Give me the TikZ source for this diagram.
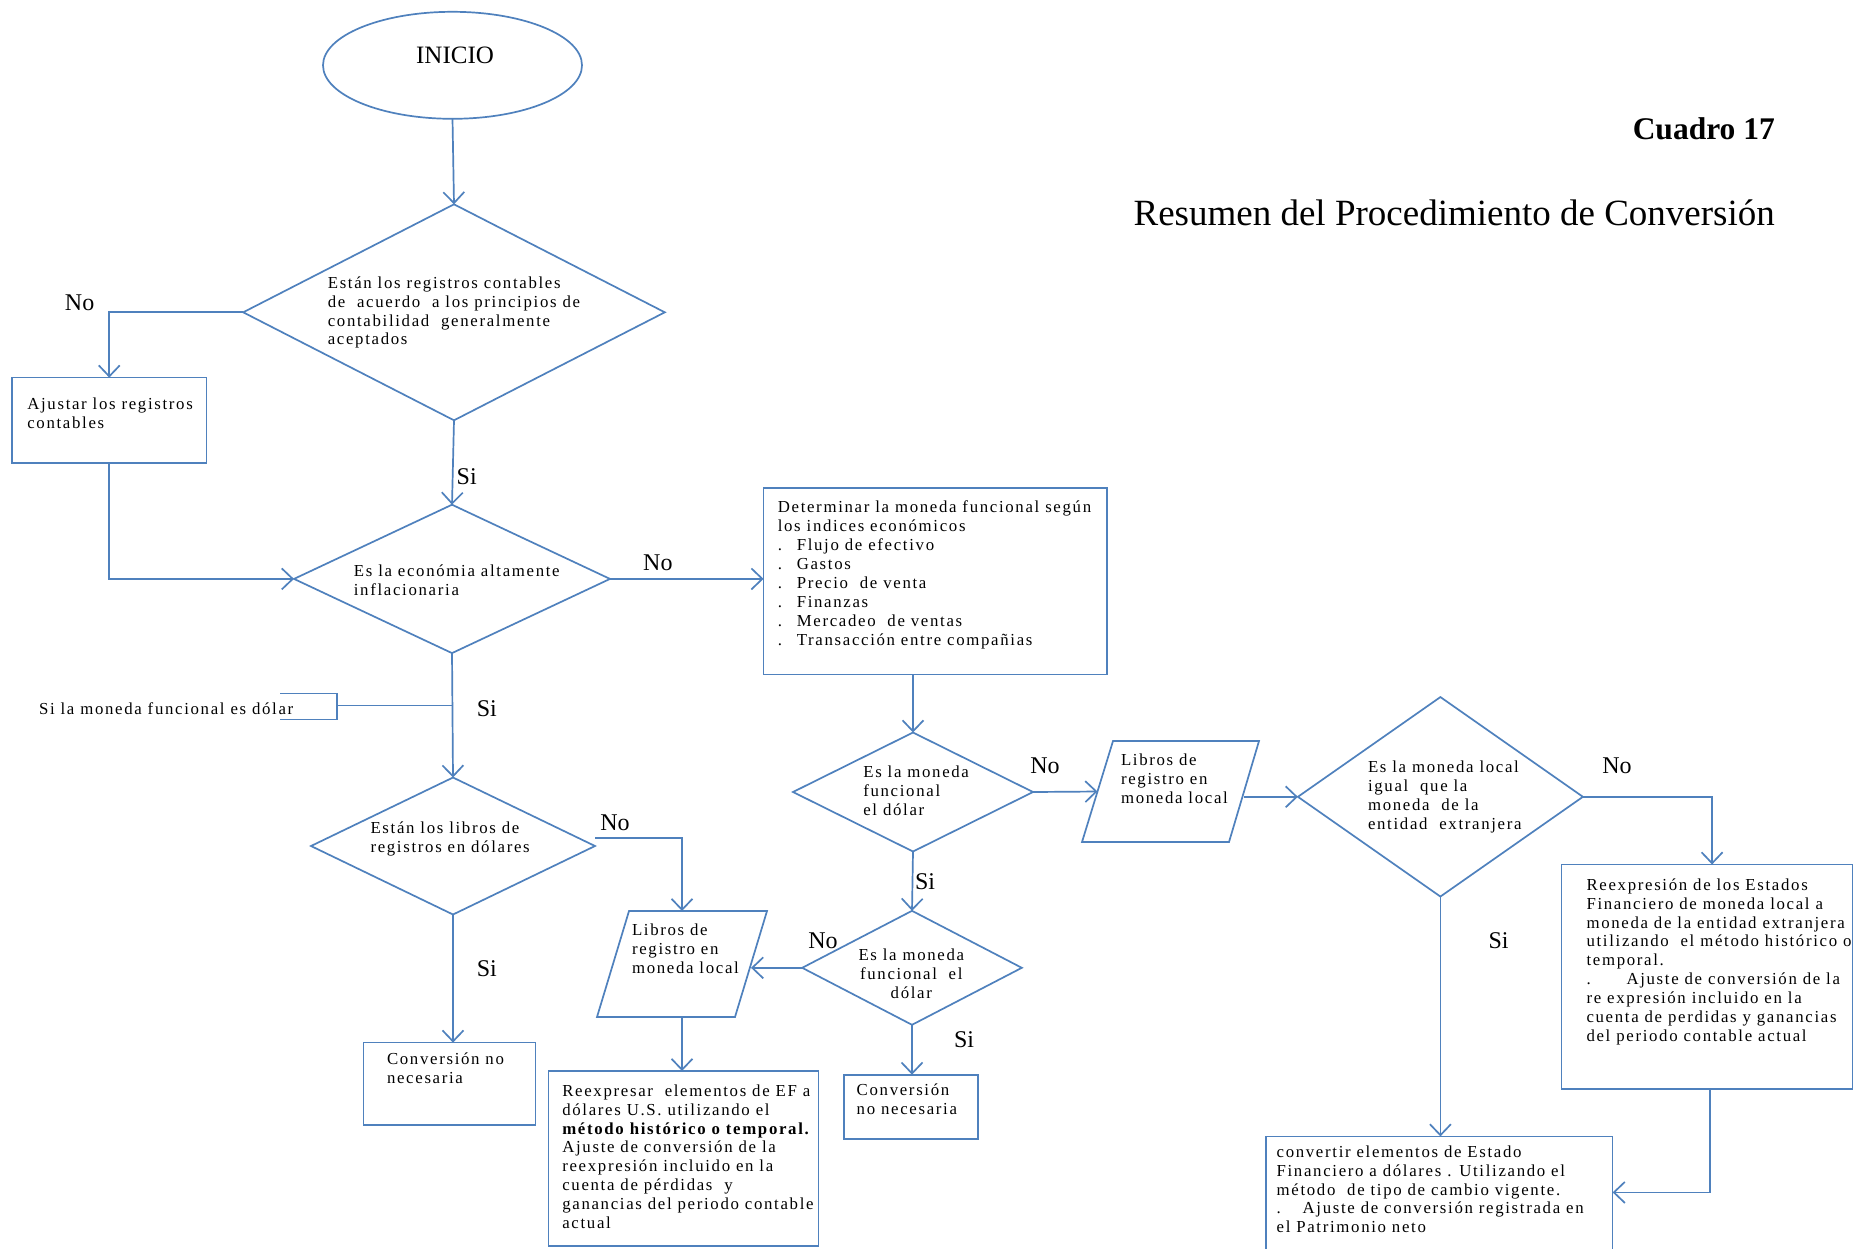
\documentclass[tikz,border=0pt]{standalone}
\usepackage{fontspec}
\setmainfont{Liberation Serif}
\newfontfamily\boxfont{Liberation Serif}[LetterSpace=10]
\usetikzlibrary{shapes.geometric,arrows.meta,calc}
\definecolor{flowblue}{RGB}{79,129,189}
\newcommand\itemdot[1]{\makebox[#1][l]{.}}
\tikzset{
  shp/.style={draw=flowblue, line width=1.7pt, inner sep=0pt, outer sep=0pt},
  boxn/.style={shp, rectangle, anchor=north west},
  dia/.style={shp, diamond},
  frame/.style={inner sep=0pt, outer sep=0pt},
  txt/.style={inner sep=0pt, outer sep=0pt, anchor=north west, align=left,
              font=\boxfont\fontsize{16.8}{18.9}\selectfont},
  lbl/.style={inner sep=0pt, font=\fontsize{24}{26}\selectfont},
  link/.style={draw=flowblue, line width=1.7pt},
  arr/.style={link, -{Straight Barb[length=11pt,width=21pt]}},
}
\begin{document}
\begin{tikzpicture}[x=1pt,y=-1pt]
\fill[white] (0,0) rectangle (1862,1248);
\useasboundingbox (0,0) rectangle (1862,1248);

% ---------- title ----------
\node[inner sep=0pt, anchor=base east, font=\bfseries\fontsize{31.5}{36}\selectfont] (cuadro) at (1775,139) {Cuadro 17};
\node[inner sep=0pt, anchor=base east, font=\fontsize{37}{42}\selectfont] (titulo) at (1775,225) {Resumen del Procedimiento de Conversión};

% ---------- start ----------
\node[shp, ellipse, minimum width=259pt, minimum height=107pt] (inicio) at (452.5,65.3) {};
\node[inner sep=0pt, font=\fontsize{25}{27}\selectfont] (inicio-t) at (455,55) {INICIO};

% ---------- decisions ----------
\node[dia, minimum width=421.6pt, minimum height=216pt] (d1) at (454,312.3) {};
\node[dia, minimum width=316pt, minimum height=148.4pt] (d2) at (452,578.9) {};
\node[dia, minimum width=284pt, minimum height=137pt] (d5) at (453,846) {};
\node[dia, minimum width=240pt, minimum height=119pt] (d3) at (913,792) {};
\node[dia, minimum width=219.6pt, minimum height=114pt] (d6) at (912,967.8) {};
\node[dia, minimum width=285pt, minimum height=199.5pt] (d4) at (1440.4,796.8) {};

% ---------- process boxes ----------
\node[boxn, minimum width=194.7pt, minimum height=85.5pt] (ajustar) at (11.9,377.6) {};
\node[boxn, minimum width=343.2pt, minimum height=186.5pt] (det) at (763.6,488) {};
\node[boxn, minimum width=290.9pt, minimum height=224.5pt] (reexp) at (1561.6,864.5) {};
\node[boxn, minimum width=346.7pt, minimum height=120pt] (conv2) at (1265.9,1136.4) {};
\node[boxn, minimum width=172.2pt, minimum height=82.6pt] (conv1) at (363.4,1042.6) {};
\node[boxn, minimum width=134pt, minimum height=64.5pt] (conv3) at (844.3,1074.7) {};
\node[boxn, minimum width=270pt, minimum height=174.7pt] (rexp2) at (548.6,1071) {};

% ---------- data (parallelogram) boxes ----------
\node[frame, minimum width=177pt, minimum height=101pt] (p1) at (1170.5,791.5) {};
\draw[link] ([xshift=31pt]p1.north west) -- (p1.north east)
  -- ([xshift=-30pt]p1.south east) -- (p1.south west) -- cycle;
\node[frame, minimum width=170pt, minimum height=106pt] (p2) at (682,964) {};
\draw[link] ([xshift=32pt]p2.north west) -- (p2.north east)
  -- ([xshift=-32pt]p2.south east) -- (p2.south west) -- cycle;
\coordinate (p1w) at ($(p1.west)+(15.5,0)$);
\coordinate (p1e) at ($(p1.east)+(-15,0)$);
\coordinate (p2e) at ($(p2.east)+(-16,0)$);

% ---------- texts ----------
\node[txt] (d1-t) at (327.8,275) {\strut Están los registros contables\\de\ \ acuerdo\ \ a los principios de\\contabilidad\ \ generalmente\\aceptados};
\node[txt] (ajustar-t) at (27.3,396) {\strut Ajustar los registros\\contables};
\node[txt] (d2-t) at (353.9,563.6) {\strut Es la económia altamente\\inflacionaria};
\node[txt] (det-t) at (777.8,499.5) {\strut Determinar la moneda funcional según\\los indices económicos\\
  \itemdot{19pt}Flujo de efectivo\\\itemdot{19pt}Gastos\\\itemdot{19pt}Precio\ \ de venta\\
  \itemdot{19pt}Finanzas\\\itemdot{19pt}Mercadeo\ \ de ventas\\\itemdot{19pt}Transacción entre compañias};
\node[txt] (d3-t) at (863.3,764) {\strut Es la moneda\\funcional\\el dólar};
\node[txt] (p1-t) at (1121,752.4) {\strut Libros de\\registro en\\moneda local};
\node[txt] (d4-t) at (1368,759.5) {\strut Es la moneda local\\igual\ \ que la\\moneda\ \ de la\\entidad\ \ extranjera};
\node[txt] (reexp-t) at (1586.5,877) {\strut Reexpresión de los Estados\\Financiero de moneda local a\\moneda de la entidad extranjera\\
  utilizando\ \ el método histórico o\\temporal.\\\itemdot{40pt}Ajuste de conversión de la\\
  re expresión incluido en la\\cuenta de perdidas y ganancias\\del periodo contable actual};
\node[txt] (conv2-t) at (1276.6,1144) {\strut convertir elementos de Estado\\Financiero a dólares . Utilizando el\\
  método\ \ de tipo de cambio vigente.\\\itemdot{26pt}Ajuste de conversión registrada en\\el Patrimonio neto};
\node[txt] (d5-t) at (370.5,820) {\strut Están los libros de\\registros en dólares};
\node[txt] (p2-t) at (632,922) {\strut Libros de\\registro en\\moneda local};
\node[txt, anchor=north, align=center] (d6-t) at (911.3,947) {\strut Es la moneda\\funcional\ \ el\\dólar};
\node[txt] (conv1-t) at (387,1051.6) {\strut Conversión no\\necesaria};
\node[txt] (conv3-t) at (856.7,1082) {\strut Conversión\\no necesaria};
\node[txt] (rexp2-t) at (562.3,1083) {\strut Reexpresar\ \ elementos de EF a\\dólares U.S. utilizando el\\
  {\bfseries método histórico o temporal.}\\Ajuste de conversión de la\\reexpresión incluido en la\\
  cuenta de pérdidas\ \ y\\ganancias del periodo contable\\actual};
\node[txt] (note-t) at (39,701) {\strut Si la moneda funcional es dólar};

% ---------- connectors ----------
\draw[arr] (inicio.south) -- (d1.north);
\draw[arr] (d1.west) -| (ajustar.north);
\draw[arr] (d1.south) -- (d2.north);
\draw[arr] (ajustar.south) |- (d2.west);
\draw[arr] (d2.east) -- (d2.east -| det.west);
\draw[arr] (d2.south) -- (d5.north);
\draw[arr] (d3.north |- det.south) -- (d3.north);
\draw[arr] (d3.east) -- (p1w);
\draw[arr] (p1e |- d4.west) -- (d4.west);
\draw[arr] (d4.east) -| ([xshift=5pt]reexp.north);
\draw[arr] (d4.south) -- (d4.south |- conv2.north);
\draw[arr] ([xshift=3pt]reexp.south) |- ([yshift=4pt]conv2.east);
\draw[arr] (d3.south) -- (d6.north);
\draw[arr] (d6.south) -- (d6.south |- conv3.north);
\draw[arr] (d6.west) -- (d6.west -| p2e);
\draw[arr] ([yshift=8pt]d5.east) -| (p2.north);
\draw[arr] (d5.south) -- (d5.south |- conv1.north);
\draw[arr] (p2.south) -- (p2.south |- rexp2.north);

% side note bracket on the "Si" branch
\coordinate (note) at (337,705.4);
\draw[link] (d2.south |- note) -- (note);
\draw[link] (280,693.5) -- (337,693.5) -- (337,719.6) -- (280,719.6);

% ---------- branch labels ----------
\node[lbl] (l-no1) at (79.6,302.8) {No};
\node[lbl] (l-si1) at (466.7,476.2) {Si};
\node[lbl] (l-no2) at (657.9,562.9) {No};
\node[lbl] (l-si2) at (486.9,709) {Si};
\node[lbl] (l-no3) at (615,823) {No};
\node[lbl] (l-si3) at (486.9,969) {Si};
\node[lbl] (l-no4) at (1045,766) {No};
\node[lbl] (l-si4) at (925,882) {Si};
\node[lbl] (l-no5) at (823,940.5) {No};
\node[lbl] (l-si5) at (964,1040) {Si};
\node[lbl] (l-no6) at (1617,766) {No};
\node[lbl] (l-si6) at (1498.6,940.5) {Si};
\end{tikzpicture}
\end{document}
